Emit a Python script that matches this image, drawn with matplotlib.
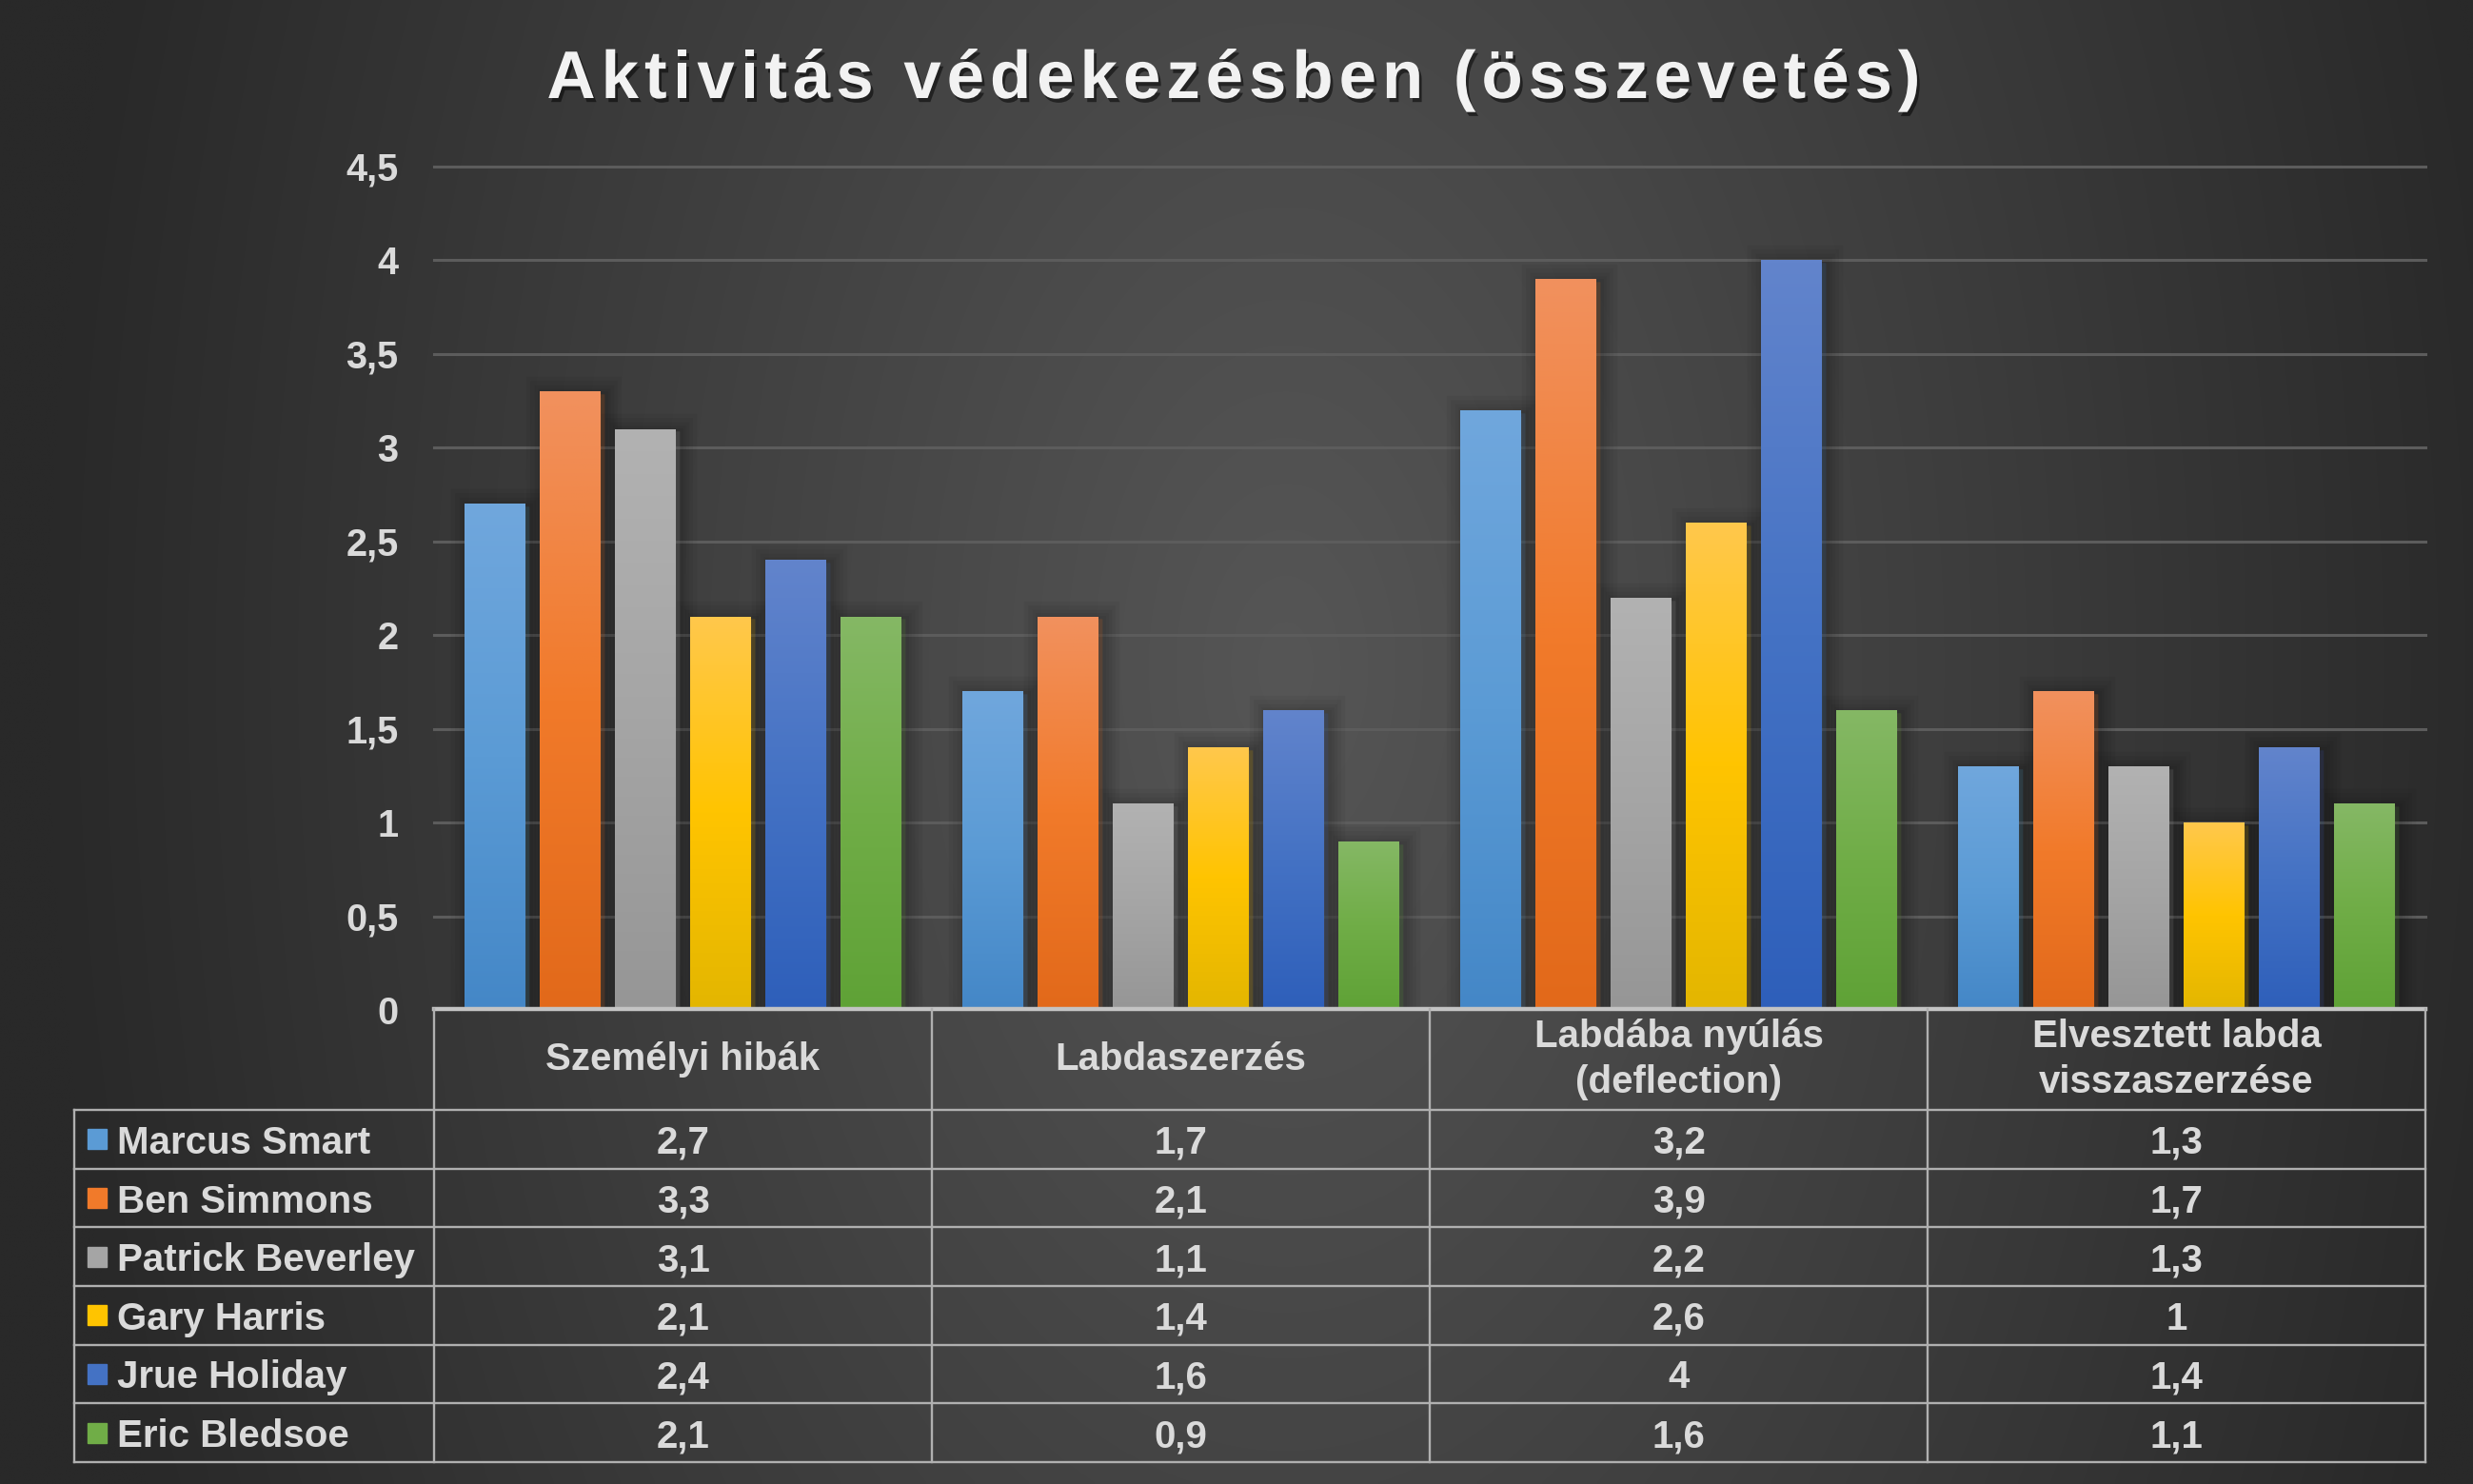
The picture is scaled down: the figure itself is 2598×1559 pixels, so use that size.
import numpy as np
import matplotlib

matplotlib.use('agg')

import matplotlib.pyplot as plt
import matplotlib.patheffects as pe
from matplotlib.colors import LinearSegmentedColormap
from matplotlib.patches import Rectangle
from matplotlib.font_manager import FontProperties

plt.rcParams['font.family'] = ['Liberation Sans', 'DejaVu Sans']
plt.rcParams['font.weight'] = 'bold'

# Данные
title = 'Aktivitás védekezésben (összevetés)'
categories = ['Személyi hibák', 'Labdaszerzés', 'Labdába nyúlás\n(deflection)',
              'Elvesztett labda\nvisszaszerzése']
players = ['Marcus Smart', 'Ben Simmons', 'Patrick Beverley', 'Gary Harris',
           'Jrue Holiday', 'Eric Bledsoe']
marcus_smart = [2.7, 1.7, 3.2, 1.3]
ben_simmons = [3.3, 2.1, 3.9, 1.7]
patrick_beverley = [3.1, 1.1, 2.2, 1.3]
gary_harris = [2.1, 1.4, 2.6, 1.0]
jrue_holiday = [2.4, 1.6, 4.0, 1.4]
eric_bledsoe = [2.1, 0.9, 1.6, 1.1]
series = [marcus_smart, ben_simmons, patrick_beverley, gary_harris, jrue_holiday, eric_bledsoe]
y_ticks = [0, 0.5, 1, 1.5, 2, 2.5, 3, 3.5, 4, 4.5]
y_tick_labels = ['0', '0,5', '1', '1,5', '2', '2,5', '3', '3,5', '4', '4,5']

# цвета: верх, середина, низ градиента
colors = [
    ('#70a7dd', '#5b9bd5', '#4487c7'),
    ('#f1915e', '#f17a2a', '#e2691a'),
    ('#b2b2b2', '#a5a5a5', '#969696'),
    ('#ffc84c', '#ffc400', '#e3b600'),
    ('#6284cc', '#4472c4', '#2e5fba'),
    ('#85b865', '#70ad47', '#5fa236'),
]
text_color = '#dadada'
line_color = '#b0b0b0'

W, H = 2598, 1559
fig = plt.figure(figsize=(W / 100, H / 100), dpi=100)


def box(x0, y0, x1, y1):
    # пиксели (сверху вниз) -> доли фигуры
    return [x0 / W, 1 - y1 / H, (x1 - x0) / W, (y1 - y0) / H]


# фон: радиальный градиент
bg = fig.add_axes([0, 0, 1, 1])
yy, xx = np.mgrid[0:1:400j, 0:1:660j]
d = np.sqrt(((xx - 0.52) / 0.5) ** 2 + ((yy - 0.45) / 1.4) ** 2)
shade = 0x56 - (0x56 - 0x29) * np.clip(d, 0, 1)
bg.imshow(np.dstack([shade, shade, shade]) / 255, extent=[0, 1, 0, 1],
          aspect='auto', origin='upper', interpolation='bilinear')
bg.set_axis_off()
bg.set_zorder(-10)

# область графика
plot_left, plot_right, plot_top, plot_bottom = 456, 2548, 175, 1061
ax = fig.add_axes(box(plot_left, plot_top, plot_right, plot_bottom))
ax.patch.set_visible(False)
for s in ax.spines.values():
    s.set_visible(False)

x = np.arange(len(categories))
step = 0.151
width = 0.122
grad = np.linspace(0, 1, 256).reshape(-1, 1)

# мягкая тень под столбцами
shadow = [pe.Stroke(linewidth=w, foreground='black', alpha=0.045, offset=(3, -2))
          for w in (26, 20, 14, 9, 5)] + [pe.Normal()]

for i, vals in enumerate(series):
    top, mid, bot = colors[i]
    cmap = LinearSegmentedColormap.from_list('c%d' % i, [top, mid, bot])
    bars = ax.bar(x + (i - 2.5) * step, vals, width, color=mid, zorder=3,
                  linewidth=0, path_effects=shadow)
    for rect in bars:
        im = ax.imshow(grad, cmap=cmap, aspect='auto', origin='upper', zorder=4,
                       extent=[rect.get_x(), rect.get_x() + rect.get_width(), 0, rect.get_height()])
        im.set_clip_path(rect)

for t in y_ticks[1:]:
    ax.axhline(t, color='#5c5c5c', lw=2.2, zorder=1, clip_on=False)

ax.set_xlim(-0.5, len(categories) - 0.5)
ax.set_ylim(0, 4.5)
ax.set_xticks([])
ax.set_yticks(y_ticks)
ax.set_yticklabels(y_tick_labels)
ax.tick_params(axis='y', length=0, pad=27, labelsize=28.5, labelcolor=text_color)

# таблица данных
tab_left, tab_top, tab_bottom = 78, 1060, 1536
col_w = (plot_right - plot_left) / len(categories)
label_w = (plot_left - tab_left) / col_w
header_h = 106 / ((tab_bottom - tab_top - 106) / len(players))
n_rows = len(players)
tab = fig.add_axes(box(tab_left, tab_top, plot_right, tab_bottom))
tab.set_axis_off()
left = -0.5 - label_w
right = len(categories) - 0.5
tab.set_xlim(left, right)
tab.set_ylim(header_h + n_rows, 0)

lk = dict(color=line_color, lw=1.7, clip_on=False, solid_capstyle='projecting')
tab.plot([-0.5, right], [0, 0], color='#c4c4c4', lw=3.2, clip_on=False)
for r in range(n_rows + 1):
    tab.plot([left, right], [header_h + r, header_h + r], **lk)
tab.plot([left, left], [header_h, header_h + n_rows], **lk)
for c in range(len(categories) + 1):
    tab.plot([c - 0.5, c - 0.5], [0, header_h + n_rows], **lk)

fs = 29
for j, cat in enumerate(categories):
    tab.text(j, header_h / 2, cat, ha='center', va='center', fontsize=fs,
             color=text_color, linespacing=1.3)

row_px = (tab_bottom - tab_top - 106) / n_rows
for i, name in enumerate(players):
    yc = header_h + i + 0.5
    key_w = 20 / col_w
    key_h = 21 / row_px
    tab.add_patch(Rectangle((left + 14 / col_w, yc - key_h / 2), key_w, key_h,
                            color=colors[i][1], clip_on=False))
    tab.text(left + 45 / col_w, yc, name, ha='left', va='center_baseline',
             fontsize=fs, color=text_color)
    for j, v in enumerate(series[i]):
        tab.text(j, yc, f'{v:g}'.replace('.', ','), ha='center', va='center_baseline',
                 fontsize=fs, color=text_color)

# заголовок с разрядкой
renderer = fig.canvas.get_renderer()
prop = FontProperties(family='Liberation Sans', weight='bold', size=51)


def text_w(s):
    return renderer.get_text_width_height_descent(s, prop, ismath=False)[0]


target_w = 2018 - 575
natural = text_w(title)
extra = max(0.0, (target_w - natural) / (len(title) - 1))
x0 = 1296 - (natural + extra * (len(title) - 1)) / 2
for k, ch in enumerate(title):
    xp = x0 + text_w(title[:k]) + extra * k
    fig.text(xp / W, 1 - 103 / H, ch, fontproperties=prop, color='#f2f2f2',
             ha='left', va='baseline',
             path_effects=[pe.withSimplePatchShadow(offset=(2, -3), shadow_rgbFace='black', alpha=0.5)])

fig.savefig('out.png', dpi=100)
plt.close(fig)
